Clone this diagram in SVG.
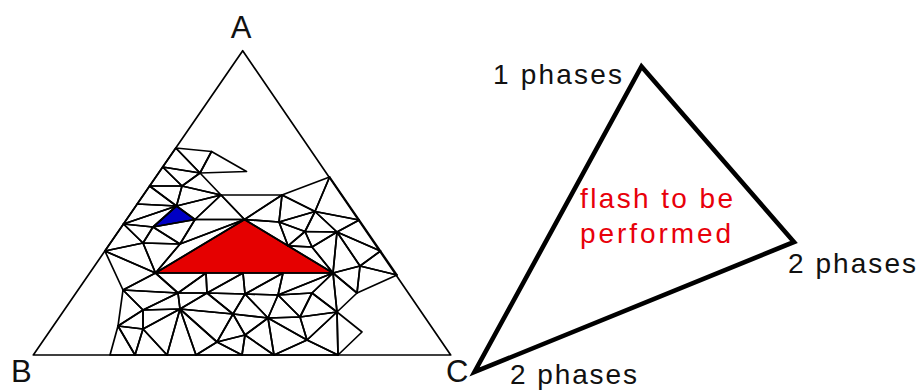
<svg xmlns="http://www.w3.org/2000/svg" width="921" height="390" viewBox="0 0 921 390">
<style>
.edge{fill:none;stroke:#000;stroke-width:1.7;stroke-linejoin:round}
.mesh polygon{fill:none;stroke:#000;stroke-width:1.7;stroke-linejoin:round}
.lbl{font-family:"Liberation Sans",Arial,sans-serif;fill:#111}
.big{font-size:31px}
.ph{font-size:28px}
.red{font-family:"Liberation Sans",Arial,sans-serif;font-size:28px;fill:#e8000a}
</style>
<rect width="921" height="390" fill="#fff"/>
<g id="ternary">
<polygon id="phase-red" points="244.5,219.5 155.5,273 333,273" fill="#e50000" stroke="#000" stroke-width="1.7"/>
<polygon id="phase-blue" points="176.5,206 195,219.5 153,227" fill="#0000c4" stroke="#000" stroke-width="1.7"/>
<g class="mesh">
<polygon points="175.8,148 211.5,151.5 200,173"/>
<polygon points="211.5,151.5 246.5,171.5 200,173"/>
<polygon points="175.8,148 200,173 162.7,167"/>
<polygon points="162.7,167 200,173 182,186"/>
<polygon points="162.7,167 182,186 149.6,186"/>
<polygon points="200,173 221,195 182,186"/>
<polygon points="182,186 221,195 176.5,206"/>
<polygon points="149.6,186 182,186 176.5,206"/>
<polygon points="149.6,186 176.5,206 137.2,204"/>
<polygon points="137.2,204 176.5,206 123.5,224"/>
<polygon points="123.5,224 176.5,206 153,227"/>
<polygon points="176.5,206 221,195 195,219.5"/>
<polygon points="221,195 244.5,219.5 195,219.5"/>
<polygon points="195,219.5 244.5,219.5 180,244"/>
<polygon points="153,227 195,219.5 180,244"/>
<polygon points="123.5,224 153,227 143,243"/>
<polygon points="153,227 180,244 143,243"/>
<polygon points="123.5,224 143,243 104.9,251"/>
<polygon points="143,243 180,244 155.5,273"/>
<polygon points="143,243 155.5,273 104.9,251"/>
<polygon points="180,244 244.5,219.5 155.5,273"/>
<polygon points="221,195 282,195 244.5,219.5"/>
<polygon points="282,195 329.6,177 315,211.5"/>
<polygon points="282,195 315,211.5 279,222"/>
<polygon points="282,195 279,222 244.5,219.5"/>
<polygon points="329.6,177 359.2,220 315,211.5"/>
<polygon points="315,211.5 359.2,220 337,232"/>
<polygon points="315,211.5 337,232 305,231.5"/>
<polygon points="315,211.5 305,231.5 279,222"/>
<polygon points="244.5,219.5 279,222 288,245.8"/>
<polygon points="279,222 305,231.5 288,245.8"/>
<polygon points="305,231.5 312,247 288,245.8"/>
<polygon points="288,245.8 312,247 333,273"/>
<polygon points="305,231.5 337,232 312,247"/>
<polygon points="337,232 333,273 312,247"/>
<polygon points="337,232 359.2,220 380.5,251"/>
<polygon points="337,232 380.5,251 360,266"/>
<polygon points="337,232 360,266 333,273"/>
<polygon points="360,266 380.5,251 397,275"/>
<polygon points="360,266 397,275 357,293"/>
<polygon points="360,266 357,293 333,273"/>
<polygon points="333,273 357,293 337,312"/>
<polygon points="333,273 312,293 337,312"/>
<polygon points="333,273 278,295 312,293"/>
<polygon points="104.9,251 155.5,273 123,290"/>
<polygon points="155.5,273 123,290 178,293"/>
<polygon points="155.5,273 206,273 178,293"/>
<polygon points="206,273 178,293 207,293"/>
<polygon points="206,273 207,293 243,273"/>
<polygon points="243,273 207,293 245,294"/>
<polygon points="243,273 245,294 283,273"/>
<polygon points="283,273 245,294 278,295"/>
<polygon points="283,273 278,295 333,273"/>
<polygon points="123,290 118,326 143,310"/>
<polygon points="123,290 143,310 178,293"/>
<polygon points="143,310 178,293 180,309"/>
<polygon points="178,293 180,309 207,293"/>
<polygon points="180,309 207,293 233,314"/>
<polygon points="207,293 233,314 245,294"/>
<polygon points="233,314 245,294 268,318"/>
<polygon points="245,294 268,318 278,295"/>
<polygon points="268,318 278,295 300,317"/>
<polygon points="278,295 300,317 312,293"/>
<polygon points="312,293 300,317 337,312"/>
<polygon points="118,326 110,355 135,355"/>
<polygon points="118,326 135,355 143,329"/>
<polygon points="118,326 143,310 143,329"/>
<polygon points="143,310 143,329 180,309"/>
<polygon points="143,329 180,309 167,355"/>
<polygon points="143,329 135,355 167,355"/>
<polygon points="180,309 167,355 196,355"/>
<polygon points="180,309 196,355 217,342"/>
<polygon points="180,309 233,314 217,342"/>
<polygon points="233,314 217,342 245,335"/>
<polygon points="233,314 245,335 268,318"/>
<polygon points="217,342 196,355 242,355"/>
<polygon points="217,342 245,335 242,355"/>
<polygon points="245,335 242,355 274,355"/>
<polygon points="245,335 268,318 274,355"/>
<polygon points="268,318 300,317 307,340"/>
<polygon points="268,318 307,340 274,355"/>
<polygon points="307,340 274,355 338,355"/>
<polygon points="300,317 307,340 337,312"/>
<polygon points="307,340 337,312 338,355"/>
<polygon points="337,312 362,332 338,355"/>
</g>
<polygon id="ternary-frame" class="edge" points="242.7,50.7 33.3,355 450.7,355"/>
<text class="lbl big" x="241" y="38" text-anchor="middle">A</text>
<text class="lbl big" x="11" y="382">B</text>
<text class="lbl big" x="446" y="382">C</text>
</g>
<g id="flash-triangle">
<polygon points="641.5,66.5 794,242 474.5,372" fill="none" stroke="#000" stroke-width="4.6" stroke-linejoin="miter" stroke-miterlimit="12"/>
<text class="red" x="580" y="208" textLength="153" lengthAdjust="spacing">flash to be</text>
<text class="red" x="580" y="243" textLength="151" lengthAdjust="spacing">performed</text>
</g>
<g id="labels">
<text class="lbl ph" x="493" y="84" textLength="129" lengthAdjust="spacing">1 phases</text>
<text class="lbl ph" x="788" y="273" textLength="128" lengthAdjust="spacing">2 phases</text>
<text class="lbl ph" x="510" y="384" textLength="127" lengthAdjust="spacing">2 phases</text>
</g>
</svg>
